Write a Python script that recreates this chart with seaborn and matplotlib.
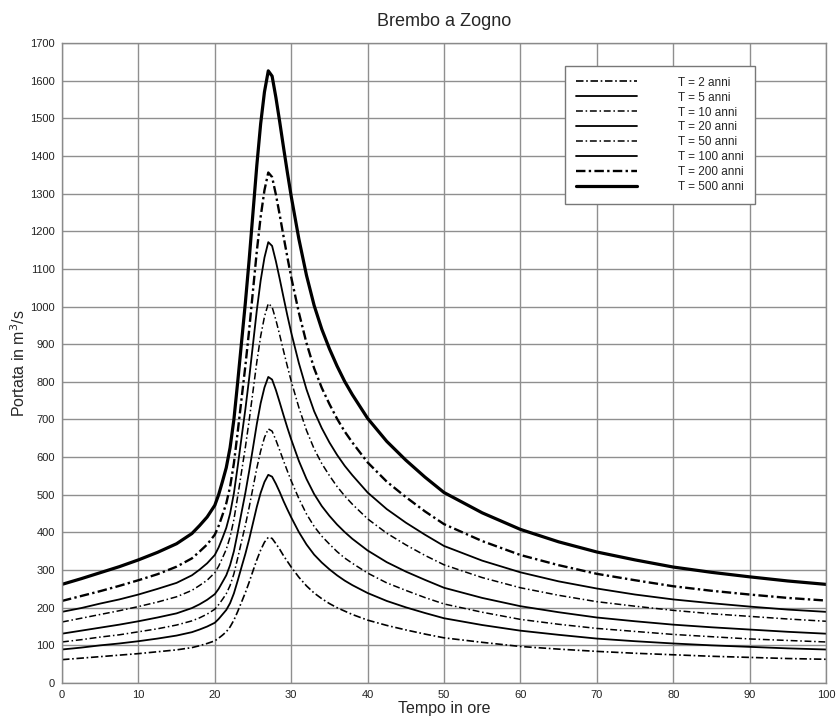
import matplotlib
matplotlib.use("Agg")
import matplotlib.pyplot as plt
import seaborn as sns
import pandas as pd

# ---- data ----
tempo = [0, 2.5, 5, 7.5, 10, 12.5, 15, 17, 18, 19, 20, 20.5, 21, 21.5, 22, 22.5, 23, 23.5,
         24, 24.5, 25, 25.5, 26, 26.5, 27, 27.5, 28, 28.5, 29, 29.5, 30, 31, 32, 33, 34, 35,
         36, 37, 38, 40, 42.5, 45, 47.5, 50, 55, 60, 65, 70, 75, 80, 85, 90, 95, 100]

q_T2 = [62, 66, 70, 74, 78, 83, 88, 94, 99, 105, 112, 119, 127, 136, 149, 167, 190, 215,
        240, 268, 298, 327, 353, 374, 387, 384, 370, 355, 338, 323, 308, 281, 258, 239, 224, 211,
        200, 191, 182, 167, 153, 141, 130, 120, 108, 97, 90, 84, 79, 75, 71, 68, 65, 63]
q_T5 = [89, 94, 100, 105, 111, 118, 126, 135, 142, 150, 160, 170, 182, 194, 212, 238, 272, 308,
        343, 382, 425, 468, 505, 534, 553, 548, 529, 507, 483, 461, 440, 401, 368, 341, 320, 302,
        286, 272, 260, 239, 218, 201, 186, 172, 154, 139, 128, 118, 111, 105, 100, 96, 92, 89]
q_T10 = [109, 115, 122, 128, 136, 144, 154, 165, 173, 183, 196, 208, 222, 237, 259, 290, 332, 376,
         419, 467, 519, 571, 616, 652, 675, 669, 645, 618, 590, 563, 537, 490, 449, 416, 390, 369,
         349, 332, 318, 292, 266, 246, 227, 210, 188, 169, 156, 145, 137, 129, 123, 117, 113, 109]
q_T20 = [131, 139, 147, 155, 164, 174, 185, 199, 209, 221, 236, 250, 268, 286, 313, 350, 400, 453,
         505, 563, 625, 688, 743, 785, 813, 806, 778, 745, 711, 678, 647, 590, 542, 502, 470, 444,
         421, 401, 383, 352, 321, 296, 274, 253, 226, 204, 188, 174, 164, 155, 148, 142, 136, 131]
q_T50 = [162, 172, 182, 192, 203, 215, 229, 246, 259, 273, 293, 310, 332, 355, 388, 434, 496, 561,
         626, 698, 775, 853, 921, 973, 1008, 999, 964, 924, 882, 841, 802, 732, 671, 622, 583, 551,
         522, 497, 475, 436, 398, 367, 339, 314, 280, 253, 233, 216, 204, 193, 184, 177, 170, 164]
q_T100 = [189, 199, 211, 222, 235, 250, 266, 286, 301, 318, 340, 360, 385, 412, 450, 504, 576, 652,
          727, 810, 900, 990, 1069, 1130, 1171, 1161, 1120, 1073, 1024, 976, 931, 850, 780, 722, 677, 639,
          606, 577, 552, 506, 462, 426, 394, 364, 325, 294, 270, 251, 235, 222, 212, 203, 195, 189]
q_T200 = [218, 231, 244, 258, 273, 289, 309, 331, 349, 368, 394, 417, 446, 477, 521, 584, 667, 755,
          842, 938, 1043, 1147, 1238, 1309, 1356, 1344, 1297, 1243, 1186, 1131, 1078, 984, 903, 836, 784, 741,
          702, 668, 639, 586, 535, 494, 456, 422, 377, 340, 313, 290, 273, 257, 245, 235, 226, 219]
q_T500 = [262, 277, 293, 309, 327, 347, 370, 397, 418, 441, 472, 500, 535, 572, 625, 700, 800, 905,
          1010, 1125, 1250, 1375, 1485, 1570, 1626, 1612, 1555, 1490, 1422, 1356, 1293, 1180, 1083, 1003, 940, 888,
          842, 801, 766, 703, 642, 592, 547, 506, 452, 408, 375, 348, 327, 308, 294, 282, 271, 262]

labels = ["T = 2 anni", "T = 5 anni", "T = 10 anni", "T = 20 anni",
          "T = 50 anni", "T = 100 anni", "T = 200 anni", "T = 500 anni"]
series = [q_T2, q_T5, q_T10, q_T20, q_T50, q_T100, q_T200, q_T500]

x_ticks = list(range(0, 101, 10))
y_ticks = list(range(0, 1701, 100))

# ---- styles ----
line_styles = [
    dict(lw=1.2, dashes=(4.5, 1.6, 1.0, 1.6)),
    dict(lw=1.3, dashes=None),
    dict(lw=1.1, dashes=(4.5, 1.8, 1.0, 1.8)),
    dict(lw=1.3, dashes=None),
    dict(lw=1.1, dashes=(4.5, 1.8, 1.0, 1.8)),
    dict(lw=1.3, dashes=None),
    dict(lw=1.7, dashes=(4.0, 1.4, 1.0, 1.4)),
    dict(lw=2.3, dashes=None),
]

sns.set_theme(style="white")
plt.rcParams['font.family'] = ['Liberation Sans', 'DejaVu Sans']

fig = plt.figure(figsize=(8.36, 7.19), dpi=100)
ax = fig.add_axes([62 / 836, 1 - 683 / 719, 764 / 836, 640 / 719])

for vals, lab, st in zip(series, labels, line_styles):
    df = pd.DataFrame({"Tempo": tempo, "Portata": vals})
    sns.lineplot(data=df, x="Tempo", y="Portata", ax=ax, color="black",
                 linewidth=st["lw"], label=lab, legend=False)
    ln = ax.lines[-1]
    if st["dashes"] is not None:
        ln.set_dashes(st["dashes"])
    ln.set_solid_joinstyle("round")
    ln.set_dash_joinstyle("round")

ax.set_xlim(0, 100)
ax.set_ylim(0, 1700)
ax.set_xticks(x_ticks)
ax.set_yticks(y_ticks)
ax.set_xticklabels([str(v) for v in x_ticks], fontsize=8)
ax.set_yticklabels([str(v) for v in y_ticks], fontsize=8)
ax.tick_params(axis="both", which="both", length=3, width=0.8, color="#777777",
               labelcolor="#222222", pad=2)
ax.grid(True, color="#8f8f8f", linewidth=1.0)
ax.set_axisbelow(True)
for sp in ax.spines.values():
    sp.set_color("#8a8a8a")
    sp.set_linewidth(1.0)

ax.set_title("Brembo a Zogno", fontsize=13, pad=12)
ax.set_xlabel("Tempo in ore", fontsize=11.5, labelpad=1)
ax.set_ylabel("Portata in m$^3$/s", fontsize=11.5, labelpad=2)

handles = ax.lines[:8]
leg = ax.legend(handles=handles, labels=labels, loc="upper left",
                bbox_to_anchor=((565 - 62) / 764, 1 - (66 - 43) / 640),
                fontsize=8.5, frameon=True, fancybox=False, framealpha=1,
                edgecolor="#777777", handlelength=5.2, handletextpad=3.5,
                labelspacing=0.25, borderpad=0.9, borderaxespad=0)
leg.get_frame().set_linewidth(1.0)

fig.savefig("out.png", dpi=100)
